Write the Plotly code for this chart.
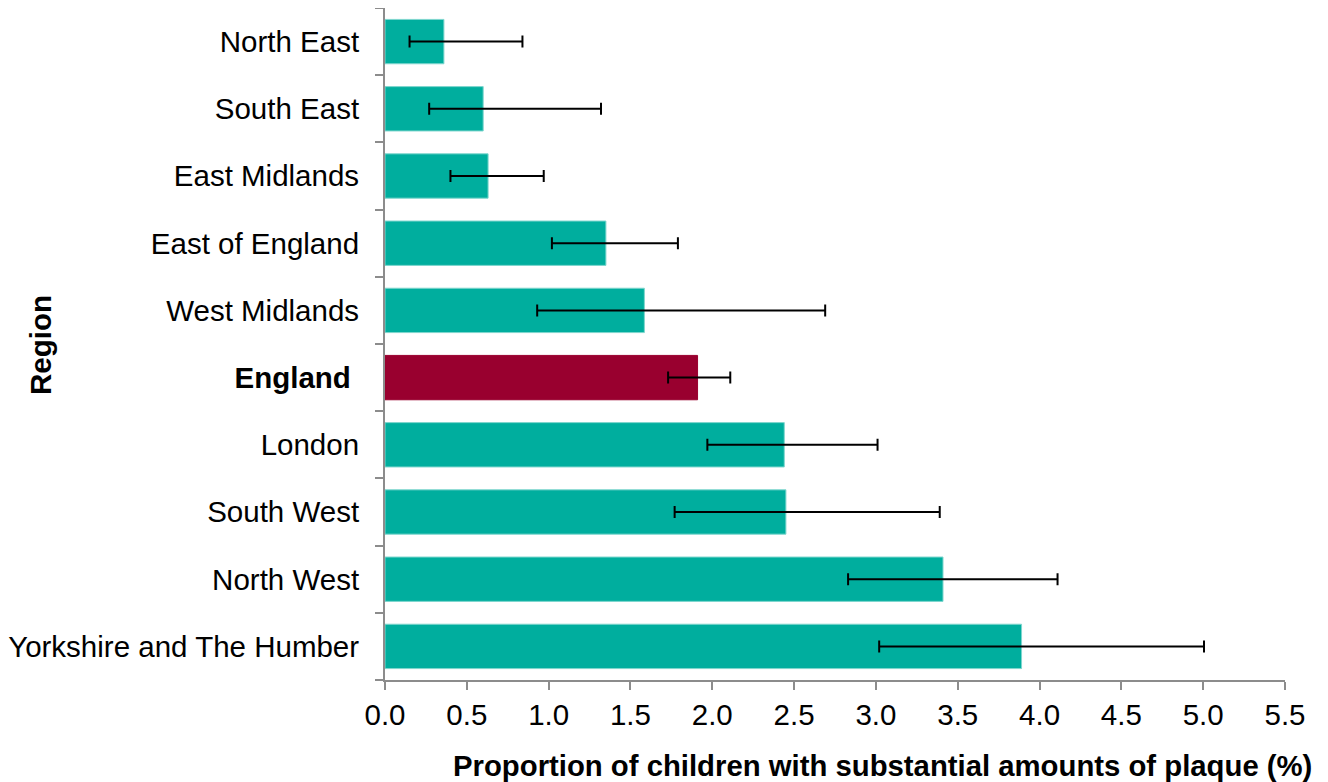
import plotly.graph_objects as go

regions = ["North East", "South East", "East Midlands", "East of England", "West Midlands",
           "England", "London", "South West", "North West", "Yorkshire and The Humber"]
values = [0.36, 0.60, 0.63, 1.35, 1.585, 1.91, 2.44, 2.45, 3.41, 3.89]
ci_low = [0.15, 0.27, 0.40, 1.02, 0.93, 1.73, 1.97, 1.77, 2.83, 3.02]
ci_high = [0.84, 1.32, 0.97, 1.79, 2.69, 2.11, 3.01, 3.39, 4.11, 5.005]
x_ticks = [0.0, 0.5, 1.0, 1.5, 2.0, 2.5, 3.0, 3.5, 4.0, 4.5, 5.0, 5.5]

TEAL = "#00AE9E"
CRIMSON = "#99002F"
colors = [CRIMSON if r == "England" else TEAL for r in regions]
line_colors = ["#99002F" if r == "England" else "#7FD6CE" for r in regions]

err_plus = [h - v for h, v in zip(ci_high, values)]
err_minus = [v - l for v, l in zip(values, ci_low)]

tick_text = ["<b>England</b>&nbsp;" if r == "England" else r for r in regions]

fig = go.Figure(go.Bar(
    x=values, y=regions, orientation="h",
    marker=dict(color=colors, line=dict(color=line_colors, width=1)),
    error_x=dict(type="data", symmetric=False, array=err_plus, arrayminus=err_minus,
                 color="black", thickness=2, width=6),
    width=0.66,
))

# page body has an 8px margin; compensate so the plot lands where the reference has it
W, H = 1320, 774
L, R, T, B = 377, 43, 0, 102
pw, ph = W - L - R, H - T - B

font = "Liberation Sans, Arial, sans-serif"
FS = 29.5
fig.update_layout(
    width=W, height=H,
    margin=dict(l=L, r=R, t=T, b=B, pad=0),
    plot_bgcolor="white", paper_bgcolor="white",
    showlegend=False,
    font=dict(family=font, size=FS, color="black"),
    xaxis=dict(range=[0, 5.5], tickvals=x_ticks, ticktext=[f"{v:.1f}" for v in x_ticks],
               showgrid=False, zeroline=False, showline=True, linecolor="#8C8C8C", linewidth=2,
               ticks="outside", ticklen=8, tickcolor="#8C8C8C", tickwidth=2,
               tickfont=dict(size=FS)),
    yaxis=dict(categoryorder="array", categoryarray=regions, autorange="reversed",
               tickvals=regions, ticktext=tick_text,
               showgrid=False, zeroline=False, showline=True, linecolor="#8C8C8C", linewidth=2,
               ticks="outside", ticklen=8, tickcolor="#8C8C8C", tickwidth=2, tickson="boundaries",
               ticklabelstandoff=18,
               tickfont=dict(size=FS)),
    annotations=[
        dict(text="<b>Proportion of children with substantial amounts of plaque (%)</b>",
             xref="paper", yref="paper", x=(1306 - L) / pw, y=-(757 - (T + ph)) / ph,
             xanchor="right", yanchor="middle", showarrow=False, font=dict(size=29.3)),
        dict(text="<b>Region</b>", xref="paper", yref="paper",
             x=-(L - 32) / pw, y=((T + ph) - 337) / ph, xanchor="center", yanchor="middle",
             textangle=-90, showarrow=False, font=dict(size=FS)),
    ],
)

fig.write_html("out.html")
